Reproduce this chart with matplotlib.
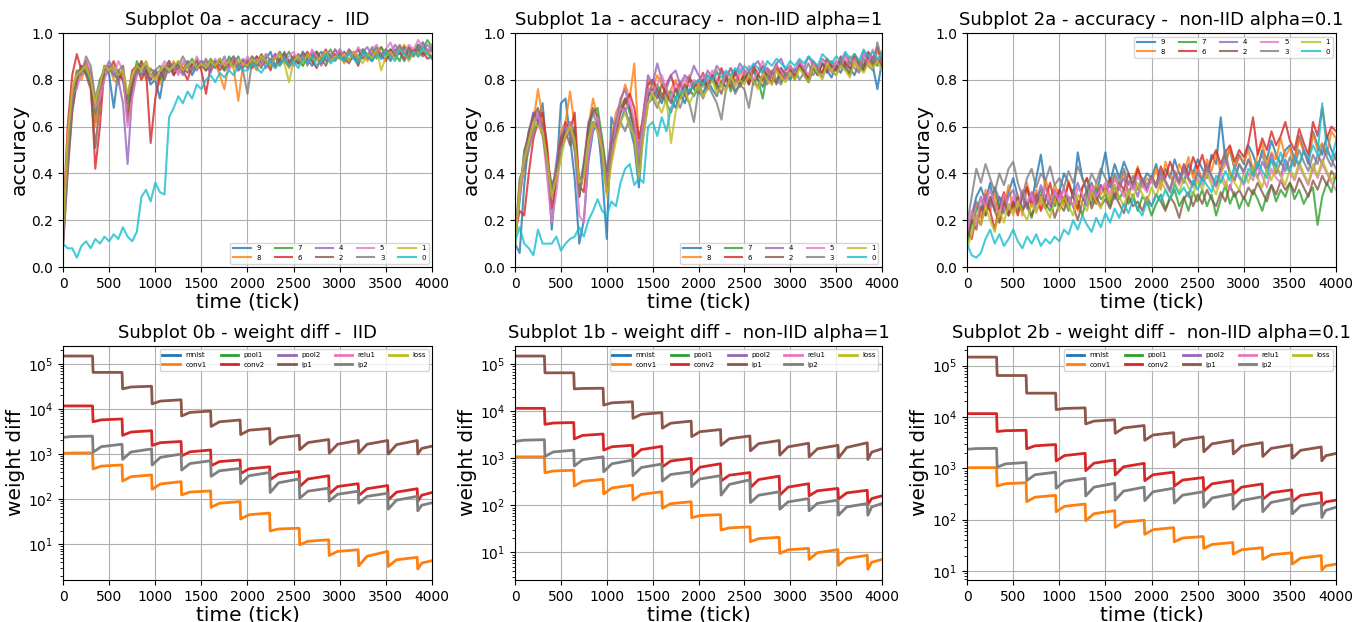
import numpy as np
import matplotlib
matplotlib.use('Agg')
import matplotlib.pyplot as plt

# ---------------- accuracy data (percent, one sample every 50 ticks) ----------------
ACC_STEP = 50
CLIENTS = ['9', '8', '7', '6', '4', '2', '5', '3', '1', '0']

acc_iid = {
    '9': [12, 45, 72, 80, 85, 83, 78, 62, 78, 86, 82, 68, 84, 80, 66, 78, 86, 82, 84, 78,
          80, 72, 84, 86, 82, 86, 84, 88, 82, 86, 88, 84, 87, 85, 89, 84, 87, 86, 90, 85,
          88, 86, 90, 87, 89, 92, 86, 89, 91, 88, 90, 87, 92, 89, 86, 90, 92, 88, 91, 89,
          93, 90, 88, 92, 90, 93, 89, 91, 94, 90, 92, 88, 93, 91, 94, 90, 92, 95, 91, 93, 92],
    '8': [15, 52, 75, 84, 80, 86, 82, 60, 74, 84, 86, 80, 78, 86, 64, 80, 84, 88, 80, 85,
          82, 78, 86, 84, 88, 83, 87, 85, 84, 89, 85, 88, 84, 87, 82, 76, 88, 85, 71, 86,
          89, 87, 84, 90, 88, 86, 91, 87, 89, 85, 88, 91, 86, 90, 88, 92, 87, 90, 89, 93,
          90, 87, 92, 89, 93, 91, 88, 92, 90, 94, 91, 93, 89, 92, 95, 90, 93, 91, 96, 92, 90],
    '7': [14, 48, 70, 82, 86, 84, 80, 66, 80, 84, 85, 82, 80, 84, 70, 76, 88, 84, 86, 82,
          84, 80, 85, 88, 84, 87, 83, 86, 89, 85, 87, 85, 89, 86, 88, 84, 90, 87, 85, 88,
          86, 90, 88, 85, 91, 88, 90, 86, 89, 92, 88, 90, 86, 91, 89, 92, 88, 90, 93, 89,
          91, 88, 92, 90, 87, 93, 91, 89, 92, 94, 90, 93, 91, 88, 94, 92, 90, 95, 93, 97, 94],
    '6': [18, 60, 82, 91, 84, 88, 80, 42, 60, 86, 84, 88, 82, 80, 72, 84, 86, 80, 84, 53,
          72, 82, 84, 88, 82, 86, 84, 80, 86, 88, 84, 74, 86, 88, 84, 87, 85, 89, 84, 86,
          88, 85, 90, 86, 88, 84, 91, 87, 89, 86, 90, 87, 89, 92, 88, 85, 90, 93, 88, 91,
          89, 92, 88, 90, 86, 92, 90, 88, 93, 91, 88, 92, 90, 94, 91, 89, 93, 90, 92, 89, 90],
    '4': [10, 42, 68, 78, 84, 86, 82, 70, 76, 84, 88, 84, 80, 70, 44, 74, 84, 86, 82, 80,
          84, 82, 86, 83, 87, 85, 82, 88, 86, 84, 88, 86, 83, 88, 86, 90, 85, 87, 84, 89,
          87, 90, 86, 89, 85, 88, 91, 87, 90, 88, 86, 91, 89, 87, 92, 90, 86, 91, 89, 93,
          90, 88, 93, 91, 89, 92, 94, 90, 92, 89, 93, 91, 95, 92, 89, 94, 91, 93, 96, 92, 93],
    '2': [8, 40, 66, 80, 86, 82, 76, 51, 70, 82, 84, 86, 82, 84, 62, 78, 82, 88, 84, 80,
          82, 84, 80, 86, 84, 88, 85, 83, 87, 85, 86, 84, 88, 86, 89, 85, 87, 90, 86, 88,
          85, 89, 87, 91, 88, 86, 90, 88, 92, 87, 89, 87, 91, 88, 90, 92, 89, 86, 91, 89,
          92, 89, 87, 91, 93, 89, 91, 88, 92, 90, 89, 93, 90, 92, 88, 94, 91, 93, 90, 92, 89],
    '5': [12, 50, 74, 76, 84, 88, 84, 68, 72, 80, 86, 82, 88, 84, 60, 72, 82, 84, 88, 82,
          80, 84, 88, 84, 86, 82, 88, 86, 84, 90, 86, 88, 85, 89, 86, 88, 84, 90, 87, 86,
          90, 87, 89, 86, 91, 88, 90, 92, 87, 90, 92, 88, 90, 87, 93, 90, 88, 92, 91, 89,
          93, 90, 92, 89, 94, 91, 90, 93, 95, 91, 93, 96, 91, 94, 92, 95, 93, 97, 94, 92, 95],
    '3': [11, 46, 70, 84, 82, 90, 86, 72, 80, 84, 86, 82, 84, 86, 72, 80, 84, 82, 86, 84,
          84, 86, 82, 88, 84, 86, 90, 86, 84, 88, 86, 89, 85, 88, 86, 84, 88, 90, 87, 84,
          74, 88, 86, 90, 87, 89, 85, 92, 88, 86, 90, 88, 92, 86, 91, 89, 87, 92, 90, 88,
          91, 89, 93, 90, 88, 92, 90, 94, 89, 91, 93, 90, 92, 95, 91, 93, 90, 94, 92, 95, 93],
    '1': [16, 55, 76, 82, 84, 86, 80, 70, 78, 86, 84, 86, 82, 84, 74, 82, 86, 84, 88, 82,
          80, 84, 86, 84, 86, 88, 84, 86, 88, 85, 87, 85, 88, 86, 89, 86, 88, 85, 89, 87,
          86, 89, 87, 90, 88, 86, 89, 91, 87, 79, 88, 90, 87, 91, 89, 88, 90, 92, 88, 90,
          89, 91, 88, 92, 90, 87, 91, 89, 93, 84, 90, 92, 89, 93, 91, 88, 92, 90, 93, 91, 92],
    '0': [10, 8, 8, 4, 9, 11, 8, 12, 10, 13, 11, 14, 12, 17, 13, 11, 15, 30, 33, 28,
          36, 32, 31, 64, 68, 73, 70, 75, 72, 78, 76, 80, 82, 79, 83, 81, 84, 82, 86, 84,
          84, 87, 85, 83, 86, 88, 85, 87, 89, 86, 88, 85, 89, 87, 90, 86, 88, 91, 87, 89,
          90, 88, 91, 89, 87, 92, 90, 88, 91, 89, 92, 90, 88, 93, 91, 89, 92, 90, 94, 91, 89],
}

acc_alpha1 = {
    '9': [10, 6, 35, 55, 66, 62, 70, 48, 16, 40, 70, 72, 55, 38, 10, 20, 45, 58, 62, 40,
          12, 64, 58, 62, 68, 60, 52, 34, 60, 72, 80, 74, 70, 76, 72, 68, 74, 70, 76, 73,
          78, 74, 80, 76, 73, 79, 77, 81, 75, 78, 82, 78, 84, 80, 77, 83, 81, 79, 85, 82,
          80, 84, 86, 82, 79, 85, 83, 87, 84, 81, 86, 83, 88, 85, 82, 87, 84, 89, 86, 76, 88],
    '8': [15, 30, 42, 55, 62, 76, 64, 50, 30, 42, 58, 62, 75, 60, 35, 42, 60, 72, 64, 52,
          38, 55, 66, 70, 78, 72, 87, 52, 66, 80, 76, 82, 78, 72, 76, 80, 74, 78, 82, 76,
          80, 77, 82, 79, 84, 78, 81, 85, 79, 82, 84, 80, 86, 82, 79, 85, 83, 87, 81, 84,
          86, 82, 88, 84, 81, 87, 85, 83, 89, 86, 84, 88, 85, 90, 87, 84, 91, 88, 86, 92, 90],
    '7': [12, 28, 50, 56, 60, 66, 58, 45, 32, 38, 52, 58, 62, 55, 30, 45, 58, 66, 68, 55,
          40, 50, 62, 68, 72, 66, 60, 48, 62, 76, 72, 78, 74, 70, 75, 72, 78, 74, 80, 76,
          74, 80, 77, 82, 76, 79, 83, 75, 80, 78, 82, 79, 84, 80, 72, 83, 81, 85, 79, 82,
          84, 81, 86, 83, 80, 85, 82, 87, 84, 88, 85, 89, 86, 83, 90, 87, 85, 91, 88, 86, 92],
    '6': [14, 24, 22, 40, 55, 62, 66, 52, 25, 36, 50, 62, 58, 66, 35, 32, 52, 62, 60, 48,
          32, 46, 58, 66, 70, 74, 68, 55, 64, 78, 80, 76, 72, 78, 82, 75, 79, 73, 81, 77,
          79, 83, 76, 82, 78, 85, 80, 77, 84, 79, 83, 78, 86, 82, 80, 84, 78, 86, 83, 80,
          85, 82, 87, 84, 81, 88, 85, 83, 89, 86, 84, 90, 87, 85, 91, 88, 86, 92, 89, 94, 87],
    '4': [10, 32, 48, 58, 66, 64, 60, 42, 30, 45, 56, 60, 58, 52, 34, 44, 62, 66, 60, 48,
          42, 55, 62, 72, 76, 68, 62, 50, 66, 82, 78, 87, 80, 76, 82, 84, 78, 82, 80, 86,
          82, 79, 84, 81, 86, 83, 80, 85, 82, 87, 84, 81, 86, 88, 83, 85, 82, 87, 89, 84,
          86, 83, 88, 85, 90, 86, 84, 89, 87, 85, 88, 86, 91, 87, 89, 85, 92, 88, 90, 87, 91],
    '2': [9, 36, 45, 58, 64, 68, 60, 46, 35, 40, 55, 58, 52, 60, 30, 42, 60, 68, 64, 52,
          38, 52, 60, 66, 72, 68, 58, 40, 60, 74, 76, 72, 78, 74, 70, 76, 72, 78, 74, 79,
          77, 80, 76, 82, 78, 74, 81, 79, 83, 77, 80, 84, 78, 82, 86, 80, 83, 78, 85, 82,
          84, 80, 86, 83, 79, 85, 82, 87, 83, 86, 84, 88, 85, 82, 89, 86, 84, 90, 87, 89, 86],
    '5': [13, 30, 44, 52, 60, 66, 58, 38, 19, 32, 50, 56, 62, 50, 22, 19, 48, 60, 64, 50,
          36, 48, 60, 68, 66, 72, 62, 46, 62, 76, 74, 78, 82, 76, 72, 79, 75, 81, 77, 80,
          78, 82, 79, 84, 80, 77, 83, 81, 78, 85, 82, 86, 80, 84, 88, 83, 81, 86, 84, 80,
          86, 83, 88, 85, 82, 87, 84, 89, 86, 83, 88, 85, 90, 86, 89, 84, 91, 87, 93, 88, 92],
    '3': [11, 38, 42, 50, 58, 62, 56, 44, 32, 40, 50, 55, 58, 50, 32, 40, 55, 62, 58, 46,
          36, 52, 56, 62, 58, 64, 54, 44, 56, 70, 72, 68, 74, 70, 66, 72, 68, 74, 70, 62,
          76, 72, 78, 74, 70, 63, 76, 80, 74, 78, 76, 68, 80, 77, 82, 78, 84, 80, 78, 83,
          81, 85, 80, 83, 87, 82, 85, 81, 86, 84, 82, 87, 84, 88, 85, 83, 89, 86, 84, 96, 88],
    '1': [8, 34, 46, 54, 62, 60, 58, 46, 30, 38, 46, 56, 60, 54, 36, 38, 54, 62, 58, 50,
          30, 44, 54, 62, 66, 60, 56, 38, 56, 70, 74, 70, 66, 72, 53, 66, 72, 76, 70, 74,
          78, 73, 76, 80, 74, 78, 75, 82, 77, 80, 78, 82, 79, 76, 83, 80, 78, 84, 81, 79,
          83, 80, 85, 82, 79, 86, 83, 80, 87, 84, 82, 86, 84, 81, 88, 85, 83, 87, 85, 88, 84],
    '0': [11, 17, 10, 8, 5, 16, 10, 10, 10, 13, 7, 10, 12, 13, 17, 13, 20, 24, 29, 24,
          22, 28, 26, 36, 42, 44, 35, 38, 36, 60, 62, 56, 64, 58, 68, 72, 74, 76, 75, 78,
          80, 78, 82, 80, 83, 81, 84, 82, 85, 83, 86, 84, 87, 85, 83, 88, 86, 89, 87, 85,
          88, 86, 89, 87, 90, 88, 86, 91, 89, 87, 90, 88, 92, 89, 91, 88, 93, 90, 92, 89, 91],
}

acc_alpha01 = {
    '9': [14, 22, 30, 34, 28, 36, 24, 30, 26, 32, 38, 30, 24, 34, 28, 38, 48, 34, 30, 26,
          32, 40, 36, 30, 49, 38, 32, 36, 30, 40, 49, 36, 44, 38, 45, 40, 34, 42, 36, 40,
          38, 44, 36, 42, 38, 46, 40, 36, 44, 40, 46, 42, 38, 48, 44, 64, 46, 50, 42, 48,
          44, 52, 48, 42, 50, 46, 54, 48, 44, 50, 52, 46, 56, 50, 44, 58, 52, 48, 56, 50, 46],
    '8': [12, 20, 27, 21, 33, 24, 31, 19, 26, 35, 24, 31, 22, 36, 27, 33, 25, 38, 29, 35,
          31, 26, 37, 30, 24, 34, 38, 29, 36, 31, 35, 28, 39, 33, 41, 30, 37, 43, 34, 38,
          36, 42, 33, 45, 39, 35, 44, 40, 47, 38, 43, 37, 46, 41, 49, 40, 44, 51, 42, 47,
          45, 50, 41, 48, 53, 44, 49, 46, 55, 47, 51, 44, 55, 49, 46, 57, 50, 53, 48, 58, 55],
    '7': [10, 18, 24, 30, 22, 28, 34, 25, 30, 22, 28, 24, 32, 26, 21, 29, 33, 27, 24, 31,
          26, 30, 24, 33, 28, 22, 31, 27, 34, 29, 31, 26, 35, 29, 33, 27, 31, 24, 30, 28,
          22, 27, 31, 25, 29, 33, 26, 30, 24, 32, 28, 33, 26, 31, 22, 29, 35, 27, 32, 25,
          30, 26, 33, 29, 24, 31, 35, 28, 33, 30, 36, 29, 33, 27, 31, 34, 18, 30, 36, 32, 40],
    '6': [16, 12, 22, 18, 28, 24, 16, 26, 32, 22, 28, 22, 30, 34, 26, 31, 24, 29, 36, 27,
          33, 28, 36, 30, 25, 34, 38, 31, 27, 35, 32, 38, 30, 36, 33, 40, 35, 42, 37, 33,
          39, 35, 43, 38, 45, 40, 36, 44, 39, 47, 42, 48, 40, 46, 50, 44, 49, 52, 45, 50,
          47, 53, 64, 48, 55, 50, 58, 52, 56, 62, 54, 50, 59, 53, 48, 62, 56, 68, 55, 60, 58],
    '4': [14, 22, 28, 24, 31, 26, 34, 29, 23, 30, 33, 27, 30, 25, 32, 28, 35, 30, 26, 33,
          29, 34, 27, 31, 36, 30, 26, 33, 29, 35, 31, 36, 29, 34, 38, 32, 36, 30, 37, 33,
          38, 34, 40, 36, 32, 41, 37, 43, 38, 35, 41, 37, 44, 39, 35, 42, 46, 40, 37, 44,
          40, 46, 42, 38, 45, 41, 48, 43, 39, 46, 42, 47, 43, 50, 45, 41, 48, 44, 51, 46, 42],
    '2': [12, 20, 16, 26, 22, 30, 24, 19, 28, 23, 26, 30, 24, 28, 22, 27, 31, 25, 29, 21,
          27, 24, 30, 26, 20, 28, 33, 25, 30, 26, 29, 25, 31, 27, 23, 30, 26, 28, 24, 30,
          26, 31, 28, 24, 30, 27, 21, 29, 32, 26, 31, 27, 33, 29, 26, 32, 28, 35, 30, 33,
          29, 34, 31, 36, 32, 28, 35, 31, 37, 33, 36, 32, 38, 34, 30, 37, 33, 39, 35, 41, 38],
    '5': [15, 24, 18, 30, 26, 33, 27, 22, 31, 25, 30, 26, 33, 28, 31, 24, 29, 34, 27, 32,
          28, 33, 30, 26, 34, 31, 28, 35, 30, 33, 36, 31, 38, 34, 30, 37, 33, 39, 35, 32,
          38, 34, 40, 36, 33, 39, 35, 41, 37, 34, 38, 35, 41, 37, 34, 40, 36, 33, 42, 38,
          35, 40, 37, 43, 39, 34, 42, 38, 36, 44, 40, 37, 43, 39, 35, 42, 38, 44, 40, 36, 33],
    '3': [18, 30, 42, 36, 44, 38, 32, 40, 35, 42, 45, 36, 30, 38, 42, 34, 40, 37, 43, 35,
          38, 34, 41, 36, 43, 38, 33, 40, 36, 42, 38, 34, 40, 36, 42, 35, 39, 33, 38, 35,
          39, 34, 41, 37, 33, 40, 36, 42, 38, 35, 40, 37, 43, 39, 35, 42, 50, 40, 37, 44,
          41, 46, 39, 44, 48, 42, 46, 40, 45, 41, 47, 43, 50, 45, 41, 48, 44, 52, 47, 43, 49],
    '1': [8, 14, 22, 18, 26, 20, 15, 24, 19, 27, 22, 28, 24, 20, 27, 23, 30, 25, 21, 29,
          24, 30, 26, 22, 31, 27, 24, 32, 28, 25, 33, 29, 35, 30, 26, 33, 29, 36, 31, 28,
          34, 30, 37, 33, 29, 36, 32, 38, 34, 31, 37, 33, 40, 35, 31, 38, 34, 41, 36, 33,
          40, 36, 43, 38, 34, 42, 37, 44, 39, 35, 42, 38, 45, 40, 36, 44, 39, 46, 41, 37, 40],
    '0': [10, 5, 4, 6, 12, 16, 10, 14, 9, 12, 16, 11, 8, 13, 10, 14, 9, 12, 10, 13,
          11, 16, 14, 20, 16, 22, 18, 15, 21, 17, 23, 19, 25, 21, 27, 23, 29, 25, 22, 28,
          26, 31, 28, 33, 29, 35, 31, 34, 30, 37, 33, 38, 35, 32, 39, 36, 41, 37, 43, 39,
          36, 42, 39, 45, 41, 38, 46, 43, 49, 44, 41, 47, 44, 50, 46, 52, 48, 70, 50, 46, 54],
}

# ---------------- weight diff data ----------------
# per sync period: value right after the drop, a little later, and just before the next drop
LAYERS = ['mnist', 'conv1', 'pool1', 'conv2', 'pool2', 'ip1', 'relu1', 'ip2', 'loss']
STEP_TICKS = [0, 320, 640, 960, 1280, 1600, 1920, 2240, 2560, 2880, 3200, 3520, 3840, 4000]

wd_iid = {
    'conv1': ([1040, 468, 252, 165, 124, 66, 36, 19.7, 9.7, 5.6, 3.3, 3.2, 2.8],
              [1055, 540, 314, 217, 143, 81, 45, 21.7, 11.6, 6.9, 5.4, 4.5, 3.8],
              [1060, 573, 344, 244, 152, 88, 49, 22.6, 12.5, 7.5, 6.9, 5.1, 4.3]),
    'conv2': ([11700, 5200, 2600, 1550, 910, 550, 370, 270, 190, 130, 120, 96, 89],
              [11700, 5750, 3080, 1790, 1120, 680, 470, 360, 280, 190, 170, 143, 122],
              [11700, 6000, 3300, 1900, 1230, 740, 520, 410, 330, 220, 200, 170, 140]),
    'ip1':   ([150000, 65000, 28000, 13000, 7000, 4100, 2700, 1650, 1250, 1050, 1050, 1000, 1000],
              [150000, 65000, 30800, 15000, 8400, 5200, 3380, 2280, 1800, 1650, 1650, 1620, 1330],
              [150000, 65000, 32000, 16000, 9000, 5700, 3700, 2600, 2100, 2000, 2000, 2000, 1500]),
    'ip2':   ([2350, 1100, 760, 570, 440, 320, 220, 140, 105, 90, 81, 60, 55],
              [2450, 1460, 1110, 845, 615, 425, 330, 230, 150, 128, 115, 95, 73],
              [2500, 1650, 1300, 1000, 710, 480, 390, 280, 175, 150, 135, 115, 83]),
}

wd_alpha1 = {
    'conv1': ([1080, 495, 260, 175, 130, 87, 55, 30, 17, 9.6, 7.1, 5.3, 4.4],
              [1080, 540, 326, 236, 172, 109, 61, 33.4, 19.7, 11.4, 9.9, 7.5, 6.2],
              [1080, 560, 360, 270, 195, 120, 64, 35, 21, 12.2, 11.5, 8.7, 7.1]),
    'conv2': ([11600, 5300, 2600, 1500, 1080, 660, 440, 330, 240, 166, 160, 136, 105],
              [11600, 5650, 3080, 1770, 1540, 880, 650, 440, 355, 245, 205, 185, 140],
              [11600, 5800, 3300, 1900, 1800, 1000, 770, 500, 420, 290, 230, 210, 160]),
    'ip1':   ([150000, 66000, 30000, 13600, 7100, 4400, 2900, 1900, 1450, 1170, 1080, 1020, 950],
              [150000, 66000, 30700, 15200, 8650, 5600, 3700, 2620, 2060, 1760, 1600, 1710, 1360],
              [150000, 66000, 31000, 16000, 9400, 6200, 4100, 3000, 2400, 2100, 1900, 2150, 1600]),
    'ip2':   ([2300, 1100, 690, 520, 430, 330, 250, 166, 115, 83, 77, 62, 62],
              [2440, 1370, 940, 770, 640, 455, 365, 280, 165, 119, 111, 93, 93],
              [2500, 1500, 1080, 920, 760, 520, 430, 350, 195, 140, 130, 110, 110]),
}

wd_alpha01 = {
    'conv1': ([1030, 452, 224, 143, 96, 71, 52, 37, 27.6, 21.4, 16.9, 13.7, 10.5],
              [1030, 502, 274, 182, 131, 89, 64, 44, 33, 26, 20.8, 17.9, 12.6],
              [1030, 525, 298, 202, 150, 98, 70, 47, 36, 28.5, 22.7, 20, 13.7]),
    'conv2': ([11600, 5200, 2400, 1390, 900, 740, 575, 450, 360, 310, 250, 224, 185],
              [11600, 5400, 2740, 1770, 1260, 1070, 750, 590, 500, 430, 335, 297, 222],
              [11600, 5500, 2900, 1960, 1450, 1250, 840, 660, 575, 495, 380, 335, 240]),
    'ip1':   ([146000, 64000, 29000, 13900, 7300, 4800, 3500, 2600, 2100, 1900, 1700, 1570, 1400],
              [146000, 64000, 29000, 14650, 8300, 6100, 4450, 3560, 3000, 2700, 2440, 2240, 1760],
              [146000, 64000, 29000, 15000, 8800, 6800, 4950, 4100, 3500, 3160, 2850, 2600, 1950]),
    'ip2':   ([2350, 1050, 575, 410, 290, 240, 235, 210, 175, 160, 143, 130, 110],
              [2420, 1220, 750, 560, 430, 360, 350, 300, 265, 236, 217, 185, 152],
              [2450, 1300, 840, 640, 510, 430, 410, 350, 315, 280, 260, 215, 175]),
}

COLORS = plt.rcParams['axes.prop_cycle'].by_key()['color']

ROW_Y = [0.5707, 0.0675]
ROW_H = 0.3762
COL_X = [0.0462, 0.3776, 0.709]
COL_W = [0.2705, 0.2690, 0.2705]

TITLE_FS = 13
LABEL_FS = 14.5
TICK_FS = 10
LEGEND_KW = dict(ncol=5, fontsize=5, handlelength=2.5, columnspacing=2.0)


def style_axes(ax, title, ylabel):
    ax.set_xlim(0, 4000)
    ax.set_xticks(np.arange(0, 4001, 500))
    ax.grid(True)
    ax.set_title(title, fontsize=TITLE_FS)
    ax.set_xlabel('time (tick)', fontsize=LABEL_FS, labelpad=1)
    ax.set_ylabel(ylabel, fontsize=LABEL_FS, labelpad=2)
    ax.tick_params(labelsize=TICK_FS)


def plot_accuracy(ax, data, title, legend_loc):
    for i, name in enumerate(CLIENTS):
        vals = np.array(data[name]) / 100.0
        t = np.arange(len(vals)) * ACC_STEP
        ax.plot(t, vals, color=COLORS[i], linewidth=1.5, alpha=0.8, label=name)
    ax.set_ylim(0, 1.0)
    style_axes(ax, title, 'accuracy')
    ax.legend(loc=legend_loc, **LEGEND_KW)


def plot_weight_diff(ax, data, title, ylim):
    for i, name in enumerate(LAYERS):
        if name not in data:
            ax.plot([], [], color=COLORS[i], linewidth=2, label=name)
            continue
        lo, mid, hi = data[name]
        t, v = [], []
        for k in range(len(lo)):
            t0, t1 = STEP_TICKS[k], STEP_TICKS[k + 1]
            t += [t0 + (6 if k else 0), t0 + 0.3 * (t1 - t0), t1]
            v += [lo[k], mid[k], hi[k]]
        ax.plot(t, v, color=COLORS[i], linewidth=2, label=name)
    ax.set_yscale('log')
    ax.set_ylim(*ylim)
    style_axes(ax, title, 'weight diff')
    ax.legend(loc='upper right', **LEGEND_KW)


fig = plt.figure(figsize=(13.64, 6.22), dpi=100)

acc_sets = [(acc_iid, 'Subplot 0a - accuracy -  IID', 'lower right'),
            (acc_alpha1, 'Subplot 1a - accuracy -  non-IID alpha=1', 'lower right'),
            (acc_alpha01, 'Subplot 2a - accuracy -  non-IID alpha=0.1', 'upper right')]
wd_sets = [(wd_iid, 'Subplot 0b - weight diff -  IID', (1.6, 2.5e5)),
           (wd_alpha1, 'Subplot 1b - weight diff -  non-IID alpha=1', (2.6, 2.45e5)),
           (wd_alpha01, 'Subplot 2b - weight diff -  non-IID alpha=0.1', (6.7, 2.4e5))]

for c in range(3):
    ax = fig.add_axes([COL_X[c], ROW_Y[0], COL_W[c], ROW_H])
    plot_accuracy(ax, *acc_sets[c])
    ax = fig.add_axes([COL_X[c], ROW_Y[1], COL_W[c], ROW_H])
    plot_weight_diff(ax, *wd_sets[c])

fig.savefig('out.png', dpi=100)
